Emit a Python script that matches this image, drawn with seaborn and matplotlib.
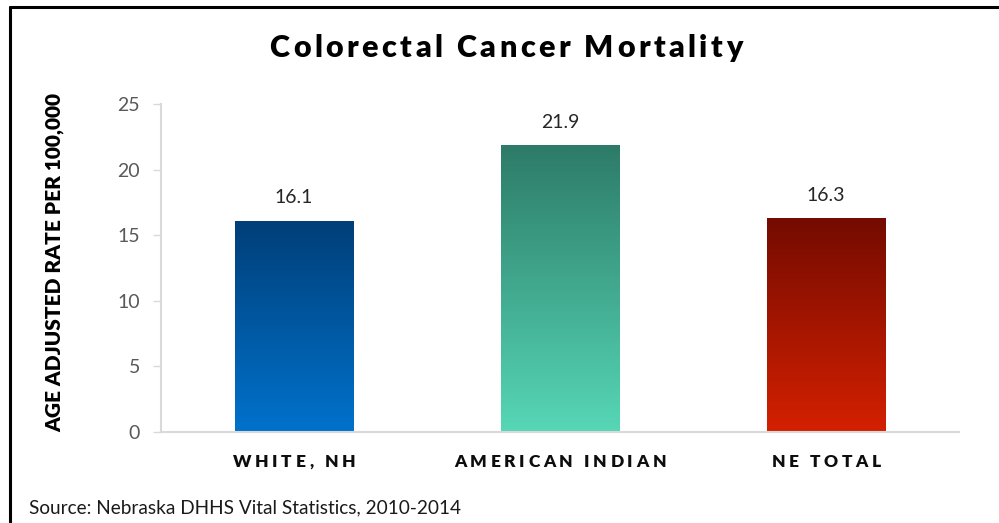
import numpy as np
import pandas as pd
import matplotlib
matplotlib.use("Agg")
import matplotlib.pyplot as plt
from matplotlib.lines import Line2D
from matplotlib.colors import LinearSegmentedColormap
import seaborn as sns

# Data
categories = ["WHITE, NH", "AMERICAN INDIAN", "NE TOTAL"]
rates = [16.1, 21.9, 16.3]
value_labels = ["16.1", "21.9", "16.3"]
y_ticks = [0, 5, 10, 15, 20, 25]

title = "Colorectal Cancer Mortality"
y_label = "AGE ADJUSTED RATE PER 100,000"
source = "Source: Nebraska DHHS Vital Statistics, 2010-2014"

# Gradient ends (top, bottom) for each bar
grad_top = ["#003f78", "#2d7b68", "#740b00"]
grad_bot = ["#0072cc", "#56d7b6", "#d42000"]

W, H = 999, 523
FONT = "Lato"

sns.set_theme(style="white")
plt.rcParams["font.family"] = [FONT, "DejaVu Sans"]

fig = plt.figure(figsize=(W / 100, H / 100), dpi=100)
fig.patch.set_facecolor("white")
ax = fig.add_axes([161 / W, (H - 431.7) / H, (959 - 161) / W, (431.7 - 104.3) / H])

df = pd.DataFrame({"group": categories, "rate": rates})
sns.barplot(data=df, x="group", y="rate", hue="group", palette=grad_bot,
            width=0.447, legend=False, ax=ax, saturation=1)

ax.set_xlim(-0.5, 2.5)
ax.set_ylim(0, 25)
ax.set_yticks(y_ticks)
ax.set_yticklabels([str(t) for t in y_ticks], fontsize=14, color="#595959", family=FONT)
ax.set_xticks(range(len(categories)))
ax.set_xticklabels([])
ax.set_xlabel("")
ax.set_ylabel("")
ax.tick_params(axis="y", length=6, width=1, color="#d9d9d9", pad=9, left=True)
ax.tick_params(axis="x", length=0)
for side in ("top", "right"):
    ax.spines[side].set_visible(False)
for side in ("left", "bottom"):
    ax.spines[side].set_color("#d9d9d9")
    ax.spines[side].set_linewidth(1.5)

# Vertical gradients clipped to each bar
grad = np.linspace(0, 1, 256).reshape(-1, 1)
for i, patch in enumerate(ax.patches):
    x0, y0 = patch.get_x(), patch.get_y()
    w, h = patch.get_width(), patch.get_height()
    cmap = LinearSegmentedColormap.from_list(f"g{i}", [grad_bot[i], grad_top[i]])
    im = ax.imshow(grad, cmap=cmap, aspect="auto", origin="lower",
                   extent=(x0, x0 + w, y0, y0 + h), zorder=patch.get_zorder() + 0.1)
    im.set_clip_path(patch)
ax.set_xlim(-0.5, 2.5)
ax.set_ylim(0, 25)

# Value labels above the bars
for i, (v, lab) in enumerate(zip(rates, value_labels)):
    ax.annotate(lab, (i, v), xytext=(0, 12.5), textcoords="offset points",
                ha="center", va="baseline", fontsize=14, color="#262626", family=FONT)

renderer = fig.canvas.get_renderer()


def text_width(s, **kw):
    t = fig.text(0, 0, s, **kw)
    w = t.get_window_extent(renderer).width
    t.remove()
    return w


def spaced_text(s, x_px, y_px, spacing, **kw):
    """Draw s centred at x_px with extra tracking between characters."""
    bar = text_width("|", **kw)
    starts = [text_width(s[:i] + "|", **kw) - bar if i else 0.0 for i in range(len(s))]
    total = text_width(s, **kw) + spacing * (len(s) - 1)
    left = x_px - total / 2
    for i, ch in enumerate(s):
        if ch == " ":
            continue
        fig.text((left + starts[i] + i * spacing) / W, y_px / H, ch,
                 ha="left", va="baseline", **kw)


# Title
spaced_text(title, 506, H - 57.3, 3.5, fontsize=22, fontweight="heavy",
            color="black", family=FONT)

# Category labels under the axis
for i, cat in enumerate(categories):
    xp = ax.transData.transform((i, 0))[0]
    spaced_text(cat, xp, H - 466.7, 3.6, fontsize=12.5, fontweight="heavy",
                color="#0d0d0d", family=FONT)

# Y axis title
fig.text(55 / W, (H - 262.5) / H, y_label, rotation=90, ha="center", va="center",
         fontsize=15, fontweight="heavy", color="black", family=FONT)

# Source note
fig.text(29 / W, (H - 513.3) / H, source, ha="left", va="baseline",
         fontsize=13.7, color="#1a1a1a", family=FONT)

# Frame lines on the left and top edges
fig.add_artist(Line2D([10 / W, 10 / W], [0, (H - 6.7) / H], transform=fig.transFigure,
                      color="black", linewidth=2.2))
fig.add_artist(Line2D([10 / W, 1], [(H - 6.7) / H, (H - 6.7) / H], transform=fig.transFigure,
                      color="black", linewidth=2.2))

fig.savefig("out.png", dpi=100, facecolor="white")
